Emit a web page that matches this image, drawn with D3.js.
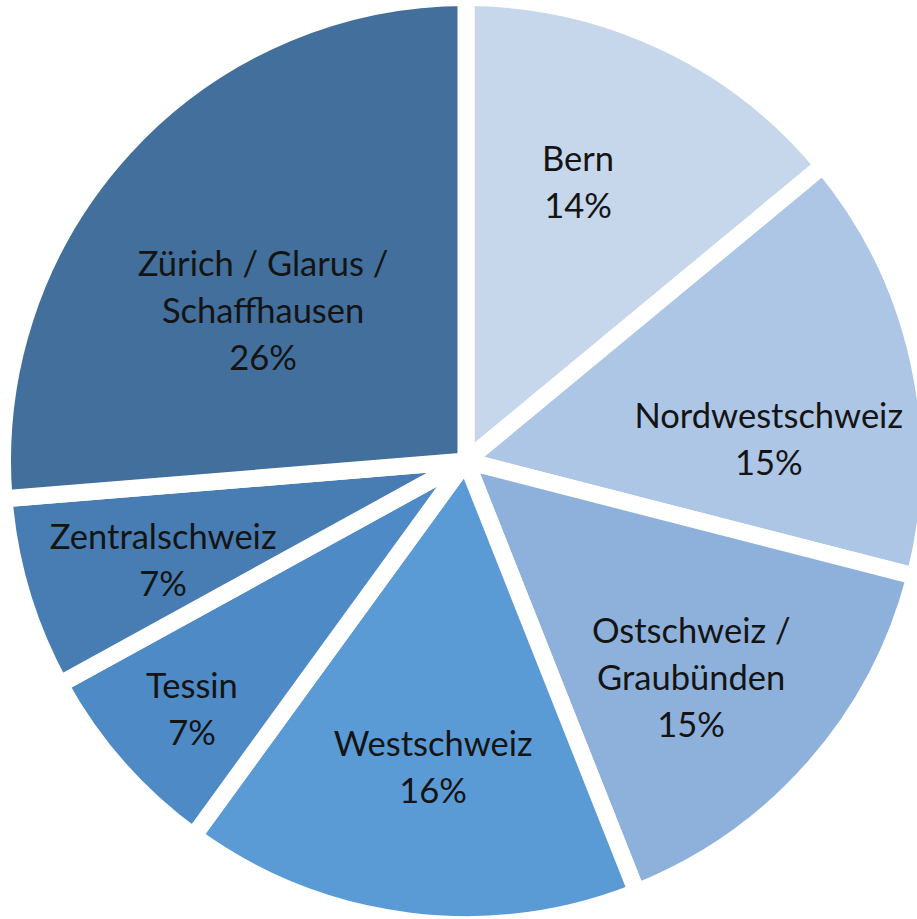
<!DOCTYPE html>
<html>
<head>
<meta charset="utf-8">
<script src="https://cdn.jsdelivr.net/npm/d3@7"></script>
<style>
  html, body { margin: 0; padding: 0; background: #fff; }
  svg { display: block; }
</style>
</head>
<body>
<svg id="chart" width="917" height="919"></svg>
<script>
// ---- data ----
const regions = ["Bern", "Nordwestschweiz", "Ostschweiz / Graubünden", "Westschweiz", "Tessin", "Zentralschweiz", "Zürich / Glarus / Schaffhausen"];
const shares = [14, 15, 15, 16, 7, 6.7, 26.3];
const labelLines = [
  ["Bern"],
  ["Nordwestschweiz"],
  ["Ostschweiz /", "Graubünden"],
  ["Westschweiz"],
  ["Tessin"],
  ["Zentralschweiz"],
  ["Zürich / Glarus /", "Schaffhausen"]
];
const colors = ["#C6D7EC", "#ADC6E5", "#8EB1DC", "#5B9BD5", "#4E8AC6", "#487DB3", "#426F9C"];

// ---- layout ----
const W = 917, H = 919;
const cx = 466, cy = 461;
const R = 455;            // visible radius
const gap = 17;           // white separator width
const labelAngleDeg = [21.9, 86, 134, 186.1, 227.8, 251.7, 306.4];
const labelRadiusFrac = [0.66, 0.667, 0.688, 0.679, 0.813, 0.701, 0.554];
const fontSize = 34.5, lineH = 47, capH = 23.5;

const svg = d3.select("#chart");
const g = svg.append("g").attr("transform", `translate(${cx},${cy})`);

const pie = d3.pie().sort(null).value(d => d.v).startAngle(0).endAngle(2 * Math.PI);
const data = regions.map((r, i) => ({ name: r, v: shares[i], i }));
const arcs = pie(data);
const arc = d3.arc().innerRadius(0).outerRadius(R + gap / 2);

g.selectAll("path.slice")
  .data(arcs)
  .join("path")
  .attr("class", "slice")
  .attr("d", arc)
  .attr("fill", d => colors[d.data.i])
  .attr("stroke", "#fff")
  .attr("stroke-width", gap)
  .attr("stroke-linejoin", "miter");

const total = d3.sum(shares);
g.selectAll("text.lbl")
  .data(arcs)
  .join("text")
  .attr("class", "lbl")
  .attr("text-anchor", "middle")
  .attr("font-family", "Lato, 'Open Sans', sans-serif")
  .attr("font-size", fontSize)
  .attr("fill", "#141414")
  .each(function(d) {
    const i = d.data.i;
    const a = labelAngleDeg[i] * Math.PI / 180;
    const r = labelRadiusFrac[i] * R;
    const x = Math.sin(a) * r, y = -Math.cos(a) * r;
    const lines = labelLines[i].concat([Math.round(d.data.v / total * 100) + "%"]);
    const n = lines.length;
    const t = d3.select(this);
    lines.forEach((ln, k) => {
      t.append("tspan")
        .attr("x", x)
        .attr("y", y + (k - (n - 1) / 2) * lineH + capH / 2)
        .text(ln);
    });
  });
</script>
</body>
</html>
